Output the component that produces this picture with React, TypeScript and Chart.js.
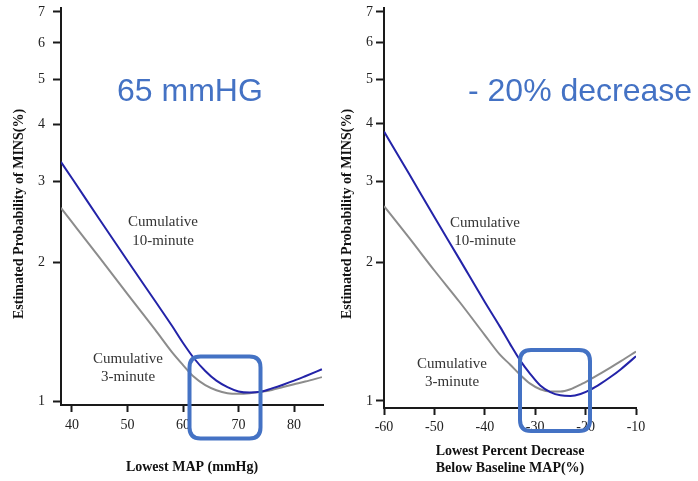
import React, { useEffect, useRef } from "react";
import { Chart, registerables } from "chart.js";

Chart.register(...registerables);

// ---------- data ----------
const yTickValues = [1, 2, 3, 4, 5, 6, 7];

const leftXTicks = [40, 50, 60, 70, 80];
const leftX = [38, 40, 45, 50, 55, 58, 60, 62, 64, 66, 68, 70, 72, 74, 76, 78, 80, 82, 85];
const leftBlue10 = [3.31, 3.05, 2.48, 2.02, 1.65, 1.46, 1.34, 1.24, 1.165, 1.11, 1.075, 1.052, 1.046, 1.05, 1.068, 1.088, 1.11, 1.135, 1.175];
const leftGray3 = [2.63, 2.45, 2.05, 1.71, 1.43, 1.28, 1.2, 1.13, 1.085, 1.058, 1.043, 1.04, 1.043, 1.05, 1.06, 1.075, 1.09, 1.105, 1.13];

const rightXTicks = [-60, -50, -40, -30, -20, -10];
const rightX = [-60, -55, -50, -45, -40, -37, -35, -33, -31, -29, -27, -25, -23, -21, -19, -17, -15, -13, -10];
const rightBlue10 = [3.85, 3.11, 2.51, 2.03, 1.64, 1.45, 1.33, 1.225, 1.145, 1.08, 1.045, 1.028, 1.025, 1.035, 1.058, 1.09, 1.128, 1.172, 1.25];
const rightGray3 = [2.65, 2.26, 1.92, 1.64, 1.39, 1.26, 1.2, 1.14, 1.09, 1.06, 1.048, 1.048, 1.06, 1.085, 1.115, 1.148, 1.183, 1.22, 1.28];

const yTitle = "Estimated Probability of MINS(%)";
const leftXTitle = ["Lowest MAP (mmHg)"];
const rightXTitle = ["Lowest Percent Decrease", "Below Baseline MAP(%)"];
const leftBig = "65 mmHG";
const rightBig = "- 20% decrease";
const label10 = ["Cumulative", "10-minute"];
const label3 = ["Cumulative", "3-minute"];

// ---------- styles ----------
const BLUE_LINE = "#2323a8";
const GRAY_LINE = "#8c8c8c";
const ACCENT = "#4472C4";
const AXIS = "#1a1a1a";
const SERIF = "'Liberation Serif', 'Times New Roman', serif";
const SANS = "'Liberation Sans', Arial, sans-serif";

type Area = { left: number; top: number; right: number; bottom: number };

function roundRectPath(ctx: CanvasRenderingContext2D, x: number, y: number, w: number, h: number, r: number) {
  ctx.beginPath();
  ctx.moveTo(x + r, y);
  ctx.lineTo(x + w - r, y);
  ctx.quadraticCurveTo(x + w, y, x + w, y + r);
  ctx.lineTo(x + w, y + h - r);
  ctx.quadraticCurveTo(x + w, y + h, x + w - r, y + h);
  ctx.lineTo(x + r, y + h);
  ctx.quadraticCurveTo(x, y + h, x, y + h - r);
  ctx.lineTo(x, y + r);
  ctx.quadraticCurveTo(x, y, x + r, y);
  ctx.closePath();
}

function drawLines(ctx: CanvasRenderingContext2D, lines: string[], cx: number, y0: number, gap: number, font: string, color: string) {
  ctx.font = font;
  ctx.fillStyle = color;
  ctx.textAlign = "center";
  ctx.textBaseline = "middle";
  lines.forEach((t, i) => ctx.fillText(t, cx, y0 + i * gap));
}

function drawYTitle(ctx: CanvasRenderingContext2D, cx: number, cy: number) {
  ctx.save();
  ctx.translate(cx, cy);
  ctx.rotate(-Math.PI / 2);
  ctx.font = `bold 14px ${SERIF}`;
  ctx.fillStyle = "#111";
  ctx.textAlign = "center";
  ctx.textBaseline = "middle";
  ctx.fillText(yTitle, 0, 0);
  ctx.restore();
}

function makeChart(
  canvas: HTMLCanvasElement,
  xs: number[],
  blue: number[],
  gray: number[],
  xTicks: number[],
  xMin: number,
  xMax: number,
  yMin: number,
  yMax: number,
  area: Area,
  yPad: number,
  xPad: number,
  draw: (ctx: CanvasRenderingContext2D) => void
) {
  const YW = 40;
  const XH = 40;
  const overlay = {
    id: "overlay",
    afterDraw(chart: any) {
      const ctx = chart.ctx as CanvasRenderingContext2D;
      ctx.save();
      draw(ctx);
      ctx.restore();
    },
  };
  return new Chart(canvas, {
    type: "line",
    data: {
      datasets: [
        {
          data: xs.map((x, i) => ({ x, y: blue[i] })),
          borderColor: BLUE_LINE,
          borderWidth: 2,
          pointRadius: 0,
          cubicInterpolationMode: "monotone",
          fill: false,
        },
        {
          data: xs.map((x, i) => ({ x, y: gray[i] })),
          borderColor: GRAY_LINE,
          borderWidth: 2,
          pointRadius: 0,
          cubicInterpolationMode: "monotone",
          fill: false,
        },
      ],
    },
    options: {
      animation: false,
      responsive: false,
      events: [],
      layout: {
        padding: {
          left: area.left - YW,
          top: area.top,
          right: 698 - area.right,
          bottom: 481 - area.bottom - XH,
        },
      },
      plugins: { legend: { display: false }, tooltip: { enabled: false }, title: { display: false } },
      scales: {
        x: {
          type: "linear",
          min: xMin,
          max: xMax,
          afterFit: (s: any) => {
            s.height = XH;
            s.paddingLeft = 0;
            s.paddingRight = 0;
            s.paddingTop = 0;
            s.paddingBottom = 0;
          },
          afterBuildTicks: (s: any) => {
            s.ticks = xTicks.map((v) => ({ value: v }));
          },
          grid: { display: true, drawOnChartArea: false, drawTicks: true, tickLength: 7, tickWidth: 2, tickColor: AXIS, color: AXIS },
          border: { display: true, color: AXIS, width: 2 },
          ticks: {
            padding: xPad,
            color: "#222",
            font: { family: SERIF, size: 14 },
            maxRotation: 0,
            autoSkip: false,
            callback: (v: any) => String(v),
          },
        },
        y: {
          type: "logarithmic",
          min: yMin,
          max: yMax,
          afterFit: (s: any) => {
            s.width = YW;
            s.paddingLeft = 0;
            s.paddingRight = 0;
            s.paddingTop = 0;
            s.paddingBottom = 0;
          },
          afterBuildTicks: (s: any) => {
            s.ticks = yTickValues.map((v) => ({ value: v }));
          },
          grid: { display: true, drawOnChartArea: false, drawTicks: true, tickLength: 8, tickWidth: 2, tickColor: AXIS, color: AXIS },
          border: { display: true, color: AXIS, width: 2 },
          ticks: {
            padding: yPad,
            color: "#222",
            font: { family: SERIF, size: 14 },
            autoSkip: false,
            callback: (v: any) => String(v),
          },
        },
      },
    } as any,
    plugins: [overlay],
  });
}

export default function App() {
  const leftRef = useRef<HTMLCanvasElement | null>(null);
  const rightRef = useRef<HTMLCanvasElement | null>(null);

  useEffect(() => {
    const annFont = `15px ${SERIF}`;
    const left = makeChart(
      leftRef.current!,
      leftX,
      leftBlue10,
      leftGray3,
      leftXTicks,
      38.02,
      85.2,
      0.983,
      7.14,
      { left: 61, top: 8, right: 323, bottom: 405 },
      8,
      5,
      (ctx) => {
        drawYTitle(ctx, 19, 214);
        drawLines(ctx, leftXTitle, 192, 467, 17, `bold 14px ${SERIF}`, "#111");
        ctx.font = `32px ${SANS}`;
        ctx.fillStyle = ACCENT;
        ctx.textAlign = "left";
        ctx.textBaseline = "alphabetic";
        ctx.fillText(leftBig, 117, 101);
        drawLines(ctx, label10, 163, 222, 19, annFont, "#333");
        drawLines(ctx, label3, 128, 359, 18, annFont, "#333");
        ctx.strokeStyle = ACCENT;
        ctx.lineWidth = 4;
        roundRectPath(ctx, 189.5, 356.5, 71, 82, 11);
        ctx.stroke();
      }
    );
    const right = makeChart(
      rightRef.current!,
      rightX,
      rightBlue10,
      rightGray3,
      rightXTicks,
      -60,
      -10,
      0.965,
      7.14,
      { left: 384, top: 8, right: 636, bottom: 408 },
      3,
      4,
      (ctx) => {
        drawYTitle(ctx, 347, 214);
        drawLines(ctx, rightXTitle, 510, 451, 17, `bold 14px ${SERIF}`, "#111");
        ctx.font = `32px ${SANS}`;
        ctx.fillStyle = ACCENT;
        ctx.textAlign = "left";
        ctx.textBaseline = "alphabetic";
        ctx.fillText(rightBig, 468, 101);
        drawLines(ctx, label10, 485, 223, 18, annFont, "#333");
        drawLines(ctx, label3, 452, 364, 18, annFont, "#333");
        ctx.strokeStyle = ACCENT;
        ctx.lineWidth = 4;
        roundRectPath(ctx, 520, 350, 70, 81, 11);
        ctx.stroke();
      }
    );
    return () => {
      left.destroy();
      right.destroy();
    };
  }, []);

  const cs: React.CSSProperties = { position: "absolute", left: 0, top: 0, width: 698, height: 481 };
  return (
    <div style={{ position: "fixed", left: 0, top: 0, width: 698, height: 481, background: "#fff" }}>
      <canvas ref={leftRef} width={698} height={481} style={cs} />
      <canvas ref={rightRef} width={698} height={481} style={cs} />
    </div>
  );
}
